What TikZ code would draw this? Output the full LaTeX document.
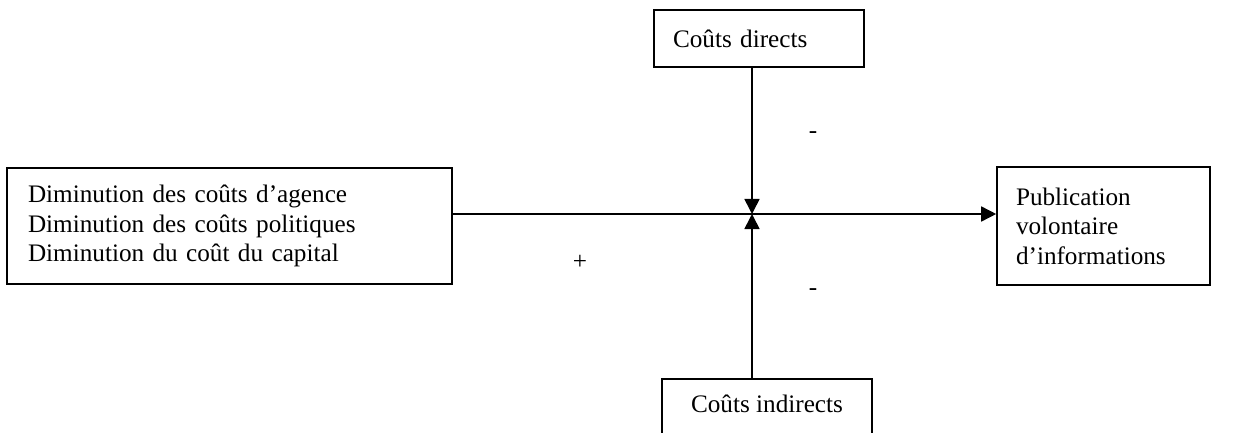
\documentclass[tikz,border=0pt]{standalone}
\usepackage{fontspec}
\setmainfont{Liberation Serif}
\usetikzlibrary{arrows.meta}
\begin{document}
\begin{tikzpicture}[x=1pt,y=-1pt,
  box/.style={draw, line width=1.6pt, rectangle, inner ysep=0pt, align=left,
    font=\fontsize{25.2}{29.5}\selectfont},
  sign/.style={font=\fontsize{25.2}{29.5}\selectfont, inner sep=0pt},
  conn/.style={line width=1.6pt, -{Triangle[length=15pt,width=15pt]}}]
\useasboundingbox (0,0) rectangle (1251,433);
\node[box, minimum width=445pt, minimum height=116pt, inner xsep=21pt, text width=403pt] (left) at (229.5,226)
  {Diminution des coûts d’agence\\Diminution des coûts politiques\\Diminution du coût du capital};
\node[box, minimum width=213pt, minimum height=118pt, inner xsep=19pt, text width=175pt] (right) at (1103.5,226)
  {Publication\\volontaire\\d’informations};
\node[box, minimum width=210pt, minimum height=57pt, inner xsep=19pt, text width=172pt] (top) at (759,38.5)
  {Coûts directs};
\node[box, minimum width=210pt, inner xsep=0pt, text height=34pt, text depth=40pt, anchor=north] (bottom) at (767,378)
  {Coûts indirects};
\coordinate (j) at (752,214);
\draw[conn] (left.east |- j) -- (right.west |- j);
\draw[conn] (top.south -| j) -- (j);
\draw[conn] (bottom.north -| j) -- (j);
\node[sign] (m1) at (813,135) {-};
\node[sign] (plus) at (580,262) {+};
\node[sign] (m2) at (813,292) {-};
\end{tikzpicture}
\end{document}
